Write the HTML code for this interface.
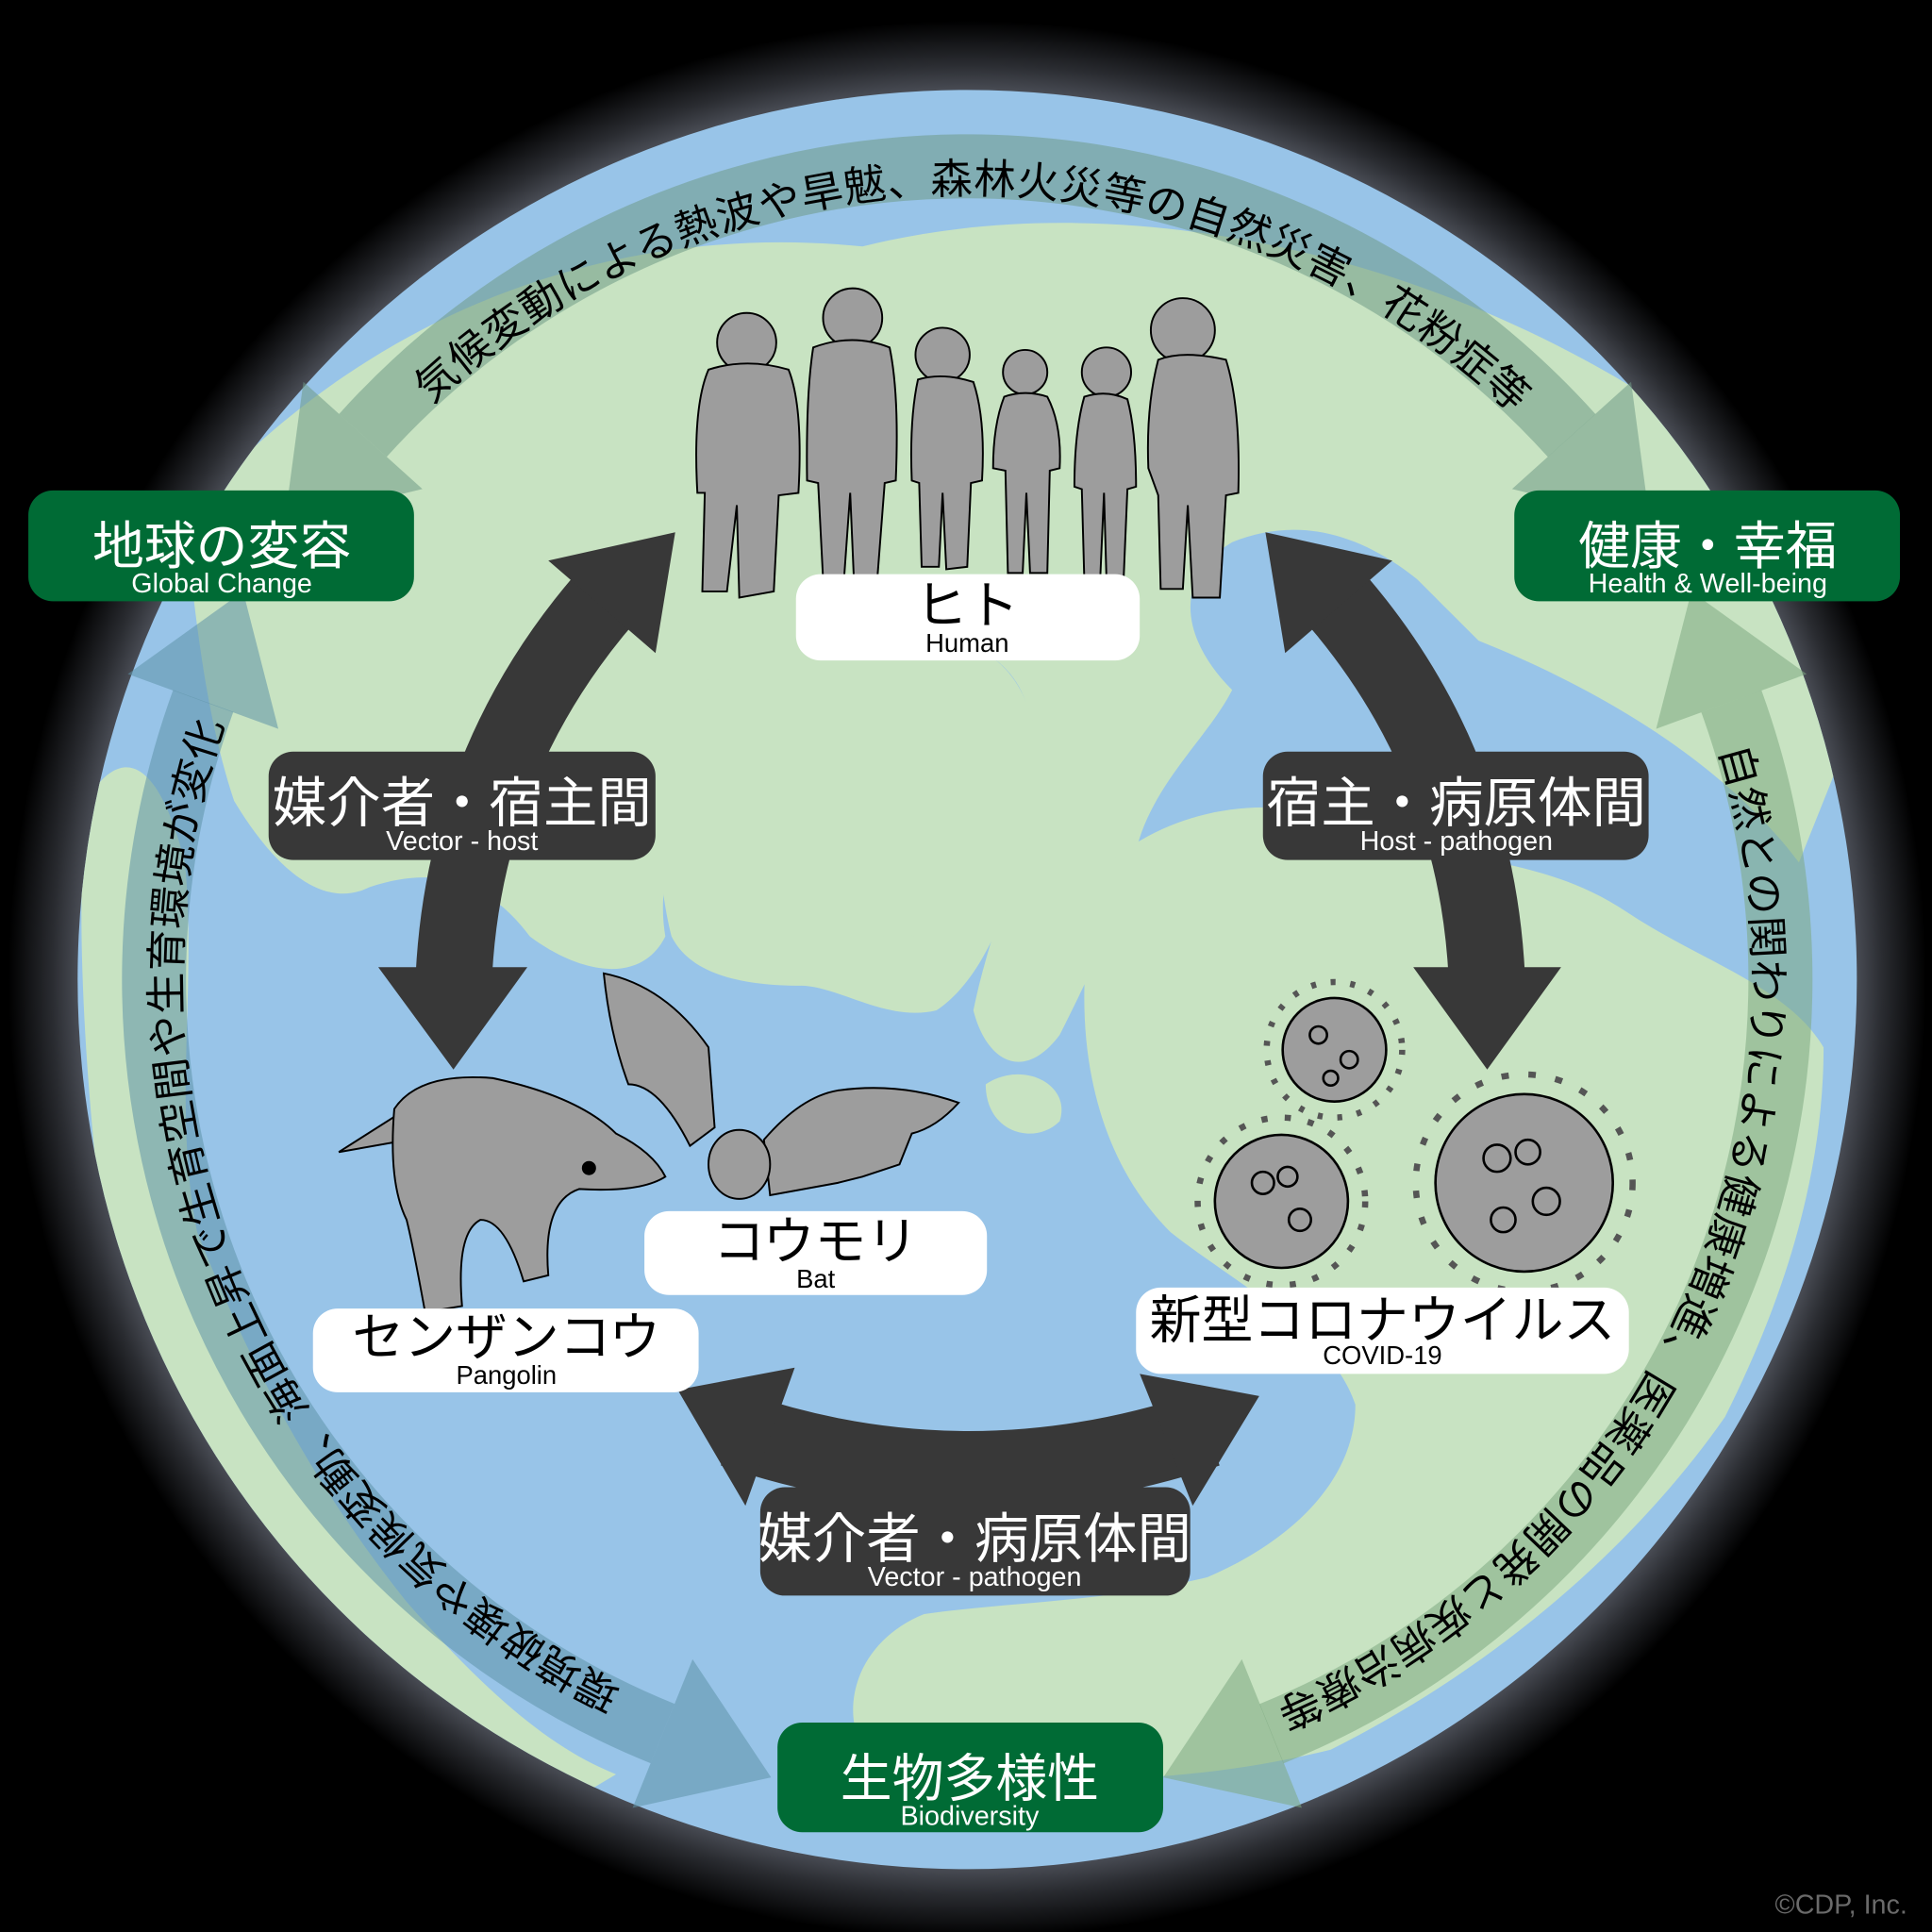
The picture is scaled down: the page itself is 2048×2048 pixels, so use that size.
<!DOCTYPE html>
<html><head><meta charset="utf-8"><style>
html,body{margin:0;padding:0;background:#000;overflow:hidden;width:2048px;height:2048px;}
svg{display:block;}
text{font-family:"Liberation Sans","Noto Sans CJK JP",sans-serif;}
</style></head><body>
<svg width="2048" height="2048" viewBox="0 0 1568 1568" xmlns="http://www.w3.org/2000/svg">
<defs>
<radialGradient id="halo" cx="785" cy="795" r="790" gradientUnits="userSpaceOnUse">
<stop offset="0.9" stop-color="#585c66"/>
<stop offset="0.94" stop-color="#2a2c31"/>
<stop offset="0.985" stop-color="#000"/>
</radialGradient>
<clipPath id="globe"><circle cx="785" cy="795" r="722"/></clipPath>
<path id="circ" d="M 1423 795 A 638 638 0 1 1 147 795 A 638 638 0 1 1 1423 795"/>
</defs>
<rect width="1568" height="1568" fill="#000"/>
<circle cx="785" cy="795" r="790" fill="url(#halo)"/>
<circle cx="785" cy="795" r="722" fill="#98c4e8"/>
<g clip-path="url(#globe)" fill="#c8e3c2">
<path d="M150 420 C300 250 500 180 700 200 C900 150 1150 200 1350 330 C1450 420 1480 520 1500 600 L1460 700 C1400 620 1300 560 1200 520 L1150 470 C1100 430 1050 420 1000 440 C950 470 960 520 1000 560 C980 600 930 640 920 700 C900 760 880 800 860 840 C830 880 800 860 790 820 C800 770 820 720 830 680 C840 620 850 560 800 530 C720 520 640 540 600 600 C560 660 530 700 540 760 C520 800 470 790 430 760 C400 720 360 700 300 720 C260 740 220 700 190 650 C170 590 160 520 150 420 Z"/>
<path d="M560 560 C620 520 720 510 800 530 C850 560 850 640 830 700 C810 760 790 800 760 820 C720 830 680 800 650 800 C600 800 560 790 545 760 C530 700 530 620 560 560 Z"/>
<path d="M70 650 C100 600 130 620 150 700 C160 800 140 900 160 1000 C200 1100 250 1200 330 1300 C400 1380 450 1420 500 1440 L400 1500 C250 1400 150 1250 90 1050 C70 900 60 750 70 650 Z"/>
<path d="M900 700 C960 650 1050 640 1120 680 C1200 700 1260 700 1320 740 C1380 780 1450 800 1480 850 C1480 950 1450 1050 1400 1150 C1330 1250 1220 1350 1080 1420 C1000 1440 900 1450 800 1440 L700 1420 C680 1380 700 1330 750 1310 C820 1300 900 1300 980 1280 C1050 1250 1100 1200 1100 1140 C1080 1080 1000 1040 950 1000 C900 950 880 880 880 810 C880 760 890 730 900 700 Z"/>
<path d="M700 770 C720 750 760 755 750 780 C740 790 710 790 700 770 Z"/>
<path d="M800 880 C830 860 870 880 860 910 C840 930 800 920 800 880 Z"/>
</g>
<g fill="none" stroke-width="52" stroke-opacity="0.55">
<circle cx="785" cy="795" r="660" stroke="#6f9a86" stroke-dasharray="1106 4000" transform="rotate(-138 785 795)"/>
<circle cx="785" cy="795" r="660" stroke="#5f94a8" stroke-dasharray="1014 4000" transform="rotate(112 785 795)"/>
<circle cx="785" cy="795" r="660" stroke="#7eaa82" stroke-dasharray="1014 4000" transform="rotate(-20 785 795)"/>
</g>
<g fill-opacity="0.55">
<polygon points="595,0 725,0 660,-95" fill="#6f9a86" transform="translate(785 795) rotate(-138)"/>
<polygon points="595,0 725,0 660,95" fill="#6f9a86" transform="translate(785 795) rotate(-42)"/>
<polygon points="595,0 725,0 660,-95" fill="#5f94a8" transform="translate(785 795) rotate(112)"/>
<polygon points="595,0 725,0 660,95" fill="#5f94a8" transform="translate(785 795) rotate(200)"/>
<polygon points="595,0 725,0 660,-95" fill="#7eaa82" transform="translate(785 795) rotate(-20)"/>
<polygon points="595,0 725,0 660,95" fill="#7eaa82" transform="translate(785 795) rotate(68)"/>
</g>
<g font-size="34" fill="#000">
<g transform="rotate(-133 785 795)"><text textLength="968" lengthAdjust="spacing"><textPath href="#circ">気候変動による熱波や旱魃、森林火災等の自然災害、花粉症等</textPath></text></g>
<g transform="rotate(116 785 795)"><text textLength="924" lengthAdjust="spacing"><textPath href="#circ">環境破壊や気候変動、海面上昇で生育空間や生育環境が変化</textPath></text></g>
<g transform="rotate(-17 785 795)"><text textLength="935" lengthAdjust="spacing"><textPath href="#circ">自然との関わりによる健康増進、医薬品の開発と疾病治療等</textPath></text></g>
</g>
<g fill="none" stroke="#383838" stroke-width="62">
<path d="M505 470 Q375 610 368 800"/>
<path d="M1070 470 Q1200 610 1207 800"/>
<path d="M595 1160 Q785 1225 980 1160"/>
</g>
<g fill="#383838">
<polygon points="445,455 548,432 532,530"/>
<polygon points="307,785 428,785 368,868"/>
<polygon points="1027,432 1130,455 1043,530"/>
<polygon points="1147,785 1267,785 1207,868"/>
<polygon points="550,1128 645,1110 605,1222"/>
<polygon points="1022,1133 925,1115 968,1222"/>
</g>
<g fill="#9d9d9d" stroke="#000" stroke-width="1.5">
<g><circle cx="606" cy="278" r="24"/><path d="M575 300 Q606 290 640 300 Q652 330 648 400 L632 402 L628 480 L600 485 L598 410 L590 480 L570 480 L572 400 L566 400 Q562 330 575 300Z"/></g>
<g><circle cx="692" cy="258" r="24"/><path d="M660 282 Q692 270 722 282 Q730 320 727 390 L718 392 L712 470 L693 470 L690 400 L685 470 L668 470 L664 392 L655 390 Q654 320 660 282Z"/></g>
<g><circle cx="765" cy="288" r="22"/><path d="M745 308 Q765 302 790 310 Q800 340 797 390 L788 392 L785 460 L768 462 L765 400 L762 460 L748 460 L746 392 L740 390 Q738 340 745 308Z"/></g>
<g><circle cx="832" cy="302" r="18"/><path d="M815 322 Q832 316 850 322 Q862 345 860 380 L852 382 L850 465 L836 465 L833 400 L830 465 L818 465 L816 382 L806 380 Q806 345 815 322Z"/></g>
<g><circle cx="898" cy="302" r="20"/><path d="M880 322 Q898 316 915 324 Q922 350 922 395 L915 397 L912 468 L898 470 L896 400 L893 468 L880 470 L878 397 L872 395 Q872 350 880 322Z"/></g>
<g><circle cx="960" cy="268" r="26"/><path d="M940 292 Q960 284 995 292 Q1007 330 1005 400 L995 402 L990 485 L968 485 L964 410 L960 478 L942 478 L940 402 L932 380 Q930 330 940 292Z"/></g>
</g>
<g fill="#9d9d9d" stroke="#000" stroke-width="1.5">
<path d="M275 935 L330 900 L360 920 Z"/>
<path d="M320 900 Q340 870 400 875 Q470 890 500 920 Q530 935 540 955 Q520 968 470 965 Q440 975 445 1035 L425 1040 Q410 990 390 990 Q370 1000 375 1060 L345 1065 Q335 1010 330 990 Q315 960 320 900Z"/>
<circle cx="478" cy="948" r="5" fill="#000"/>
</g>
<g fill="#9d9d9d" stroke="#000" stroke-width="1.5">
<path d="M490 790 Q540 800 575 850 L580 915 L560 930 Q535 880 510 880 Q495 840 490 790Z"/>
<path d="M620 925 Q650 890 680 885 Q730 878 778 895 Q760 915 740 920 L730 945 L700 955 L680 960 L625 970Z"/>
<ellipse cx="600" cy="945" rx="25" ry="28"/>
</g>
<g fill="#9d9d9d" stroke="#000" stroke-width="2">
<g stroke-width="5" stroke="#555"><circle cx="1083" cy="852" r="55" fill="none" stroke-dasharray="4 12"/><circle cx="1040" cy="975" r="68" fill="none" stroke-dasharray="5 14"/><circle cx="1237" cy="960" r="88" fill="none" stroke-dasharray="6 16"/></g>
<circle cx="1083" cy="852" r="42"/>
<circle cx="1040" cy="975" r="54"/>
<circle cx="1237" cy="960" r="72"/>
<g fill="none"><circle cx="1070" cy="840" r="7"/><circle cx="1095" cy="860" r="7"/><circle cx="1080" cy="875" r="6"/><circle cx="1025" cy="960" r="9"/><circle cx="1055" cy="990" r="9"/><circle cx="1045" cy="955" r="8"/><circle cx="1215" cy="940" r="11"/><circle cx="1255" cy="975" r="11"/><circle cx="1240" cy="935" r="10"/><circle cx="1220" cy="990" r="10"/></g>
</g>
<g fill="#fff">
<rect x="646" y="466" width="279" height="70" rx="20"/>
<rect x="523" y="983" width="278" height="68" rx="20"/>
<rect x="254" y="1062" width="313" height="68" rx="20"/>
<rect x="922" y="1045" width="400" height="70" rx="20"/>
</g>
<g fill="#000" text-anchor="middle">
<text x="785" y="506" font-size="42">ヒト</text><text x="785" y="529" font-size="21">Human</text>
<text x="662" y="1022" font-size="42">コウモリ</text><text x="662" y="1045" font-size="21">Bat</text>
<text x="411" y="1100" font-size="42">センザンコウ</text><text x="411" y="1123" font-size="21">Pangolin</text>
<text x="1122" y="1086" font-size="42">新型コロナウイルス</text><text x="1122" y="1107" font-size="21">COVID-19</text>
</g>
<g fill="#383838">
<rect x="218" y="610" width="314" height="88" rx="20"/>
<rect x="1025" y="610" width="313" height="88" rx="20"/>
<rect x="617" y="1207" width="349" height="88" rx="20"/>
</g>
<g fill="#fff" text-anchor="middle">
<text x="375" y="667" font-size="44">媒介者・宿主間</text><text x="375" y="690" font-size="22">Vector - host</text>
<text x="1182" y="667" font-size="44">宿主・病原体間</text><text x="1182" y="690" font-size="22">Host - pathogen</text>
<text x="791" y="1264" font-size="44">媒介者・病原体間</text><text x="791" y="1287" font-size="22">Vector - pathogen</text>
</g>
<g fill="#006b35">
<rect x="23" y="398" width="313" height="90" rx="20"/>
<rect x="1229" y="398" width="313" height="90" rx="20"/>
<rect x="631" y="1398" width="313" height="89" rx="20"/>
</g>
<g fill="#fff" text-anchor="middle">
<text x="180" y="458" font-size="42">地球の変容</text><text x="180" y="481" font-size="22">Global Change</text>
<text x="1386" y="458" font-size="42">健康・幸福</text><text x="1386" y="481" font-size="22">Health &amp; Well-being</text>
<text x="787" y="1458" font-size="42">生物多様性</text><text x="787" y="1481" font-size="22">Biodiversity</text>
</g>
<text x="1548" y="1553" font-size="22" fill="#6a6a6a" text-anchor="end">©CDP, Inc.</text>
</svg>
</body></html>
